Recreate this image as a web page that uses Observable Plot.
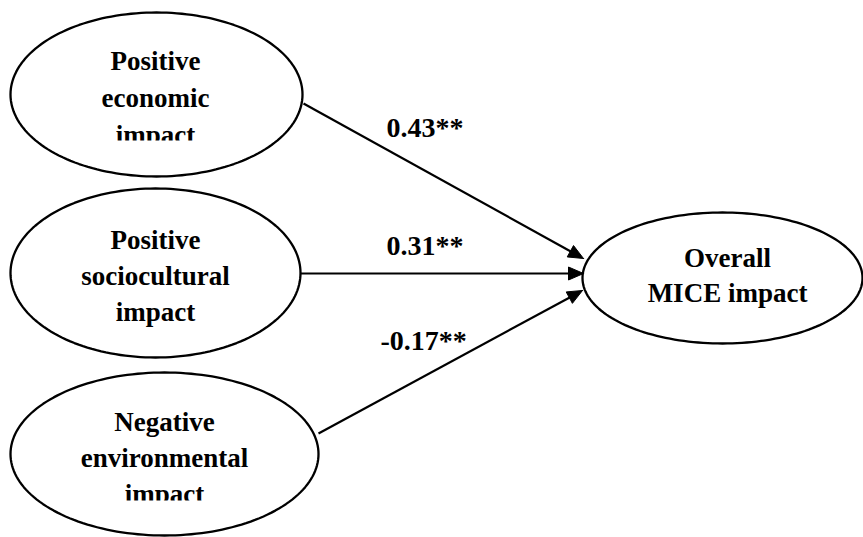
<!DOCTYPE html>
<html><head><meta charset="utf-8">
<script src="https://cdn.jsdelivr.net/npm/d3@7"></script>
<script src="https://cdn.jsdelivr.net/npm/@observablehq/plot@0.6"></script>
<style>
html,body{margin:0;padding:0;background:#fff;}
svg{display:block;}
</style>
</head><body><div id="chart"></div>
<script>
// ---- content ----
const predictorLabels = ["Positive\neconomic\nimpact", "Positive\nsociocultural\nimpact", "Negative\nenvironmental\nimpact"];
const outcomeLabel = "Overall\nMICE impact";
const coefficients = ["0.43**", "0.31**", "-0.17**"];

// ---- layout (pixel space of the 863x537 canvas) ----
const ellipseLayout = [
  {cx: 156, cy: 94, rx: 146, ry: 82},
  {cx: 155, cy: 272.5, rx: 145, ry: 84.5},
  {cx: 164, cy: 453.5, rx: 154, ry: 81.5},
  {cx: 722, cy: 277.5, rx: 140, ry: 65.5}
];
const nodeTextLayout = [
  {x: 155, y: 95, lh: 1.37},
  {x: 155, y: 273, lh: 1.33},
  {x: 164, y: 455, lh: 1.33},
  {x: 727, y: 272.5, lh: 1.30}
];
const pathLayout = [
  {x1: 303, y1: 103, x2: 583, y2: 258},
  {x1: 300, y1: 273, x2: 583, y2: 273},
  {x1: 318, y1: 433, x2: 582, y2: 290}
];
const coefLayout = [
  {x: 386, y: 128},
  {x: 386, y: 246},
  {x: 380, y: 341}
];
// text-box clipping of the last line in two boxes
const maskLayout = [
  {x1: 95, x2: 215, y1: 140.5, y2: 154},
  {x1: 95, x2: 235, y1: 500.5, y2: 514}
];

// ---- derived geometry ----
const angles = d3.range(0, 361, 2).map(a => a * Math.PI / 180);
const ellipsePts = ellipseLayout.flatMap((e, i) =>
  angles.map(t => ({id: i, x: e.cx + e.rx * Math.cos(t), y: e.cy + e.ry * Math.sin(t)})));

const headLen = 15, headHalf = 6.5;
const shafts = [], heads = [];
pathLayout.forEach((p, i) => {
  const dx = p.x2 - p.x1, dy = p.y2 - p.y1, L = Math.hypot(dx, dy);
  const ux = dx / L, uy = dy / L;
  const bx = p.x2 - ux * headLen, by = p.y2 - uy * headLen;
  shafts.push({x1: p.x1, y1: p.y1, x2: bx + ux * 2, y2: by + uy * 2});
  heads.push({id: i, x: p.x2, y: p.y2});
  heads.push({id: i, x: bx - uy * headHalf, y: by + ux * headHalf});
  heads.push({id: i, x: bx + uy * headHalf, y: by - ux * headHalf});
  heads.push({id: i, x: p.x2, y: p.y2});
});

const nodeTexts = [...predictorLabels, outcomeLabel].map((t, i) => ({text: t, ...nodeTextLayout[i]}));
const coefTexts = coefficients.map((t, i) => ({text: t, ...coefLayout[i]}));

const font = "Liberation Serif";

const chart = Plot.plot({
  width: 863, height: 537, margin: 0,
  x: {domain: [0, 863], axis: null},
  y: {domain: [0, 537], reverse: true, axis: null},
  style: {background: "#fff", fontFamily: font},
  marks: [
    Plot.line(ellipsePts, {x: "x", y: "y", z: "id", stroke: "#000", strokeWidth: 2.3, fill: "white"}),
    Plot.link(shafts, {x1: "x1", y1: "y1", x2: "x2", y2: "y2", stroke: "#000", strokeWidth: 2.2}),
    Plot.line(heads, {x: "x", y: "y", z: "id", fill: "#000", stroke: "#000", strokeWidth: 1, curve: "linear-closed"}),
    ...nodeTexts.map(d => Plot.text([d], {x: "x", y: "y", text: "text", textAnchor: "middle", lineHeight: d.lh,
      fontFamily: font, fontWeight: "bold", fontSize: 27, fill: "#000"})),
    Plot.rect(maskLayout, {x1: "x1", x2: "x2", y1: "y1", y2: "y2", fill: "white"}),
    Plot.text(coefTexts, {x: "x", y: "y", text: "text", textAnchor: "start",
      fontFamily: font, fontWeight: "bold", fontSize: 28, fill: "#000"})
  ]
});
document.getElementById("chart").appendChild(chart);
</script>
</body></html>
